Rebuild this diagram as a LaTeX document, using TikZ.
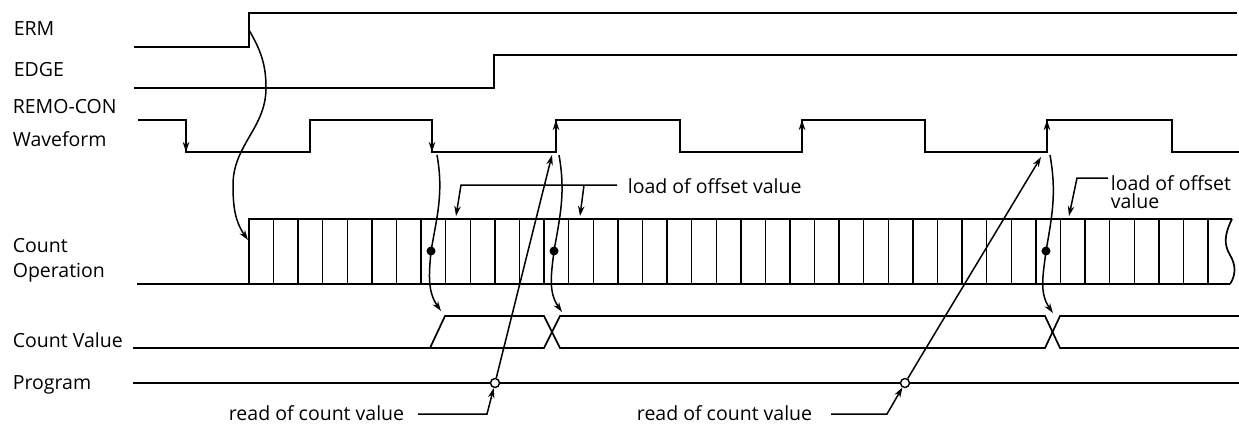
\documentclass[tikz,border=0pt]{standalone}
\usepackage{fontspec}
\setmainfont{Open Sans}
\usetikzlibrary{arrows.meta}

\begin{document}
\begin{tikzpicture}[x=1pt,y=-1pt,line width=1.7pt,
    sig/.style={line width=1.9pt},
    lead/.style={line width=1.5pt,-{Stealth[length=10pt,width=6.5pt]}},
    lbl/.style={anchor=base west,inner sep=0pt,font=\fontsize{19.5}{22}\selectfont},
    dot/.style={circle,fill,inner sep=0pt,minimum size=9pt},
    ring/.style={circle,draw,fill=white,line width=1.4pt,inner sep=0pt,minimum size=9pt}]
  \useasboundingbox (0,0) rectangle (1239,424);

  % signal names
  \node[lbl] (erm) at (13,35) {ERM};
  \node[lbl] (edge) at (13,76) {EDGE};
  \node[lbl] (remo) at (12,113) {REMO-CON};
  \node[lbl] (wave) at (12,146) {Waveform};
  \node[lbl] (cnt) at (12,252) {Count};
  \node[lbl] (oper) at (12,277) {Operation};
  \node[lbl] (cval) at (12,347) {Count Value};
  \node[lbl] (prog) at (12,389) {Program};

  % waveforms
  \draw[sig] (134,47) -- (249,47) -- (249,13) -- (1237,13);
  \draw[sig] (134,88) -- (494,88) -- (494,55) -- (1237,55);
  \draw (138,120) -| (186,152) -| (310,120) -| (432,152) -| (556,120) -| (680,152)
    -| (802,120) -| (925,152) -| (1047,120) -| (1172,152) -- (1239,152);
  \foreach \x/\ya/\yb in {186/120/152, 432/120/152, 556/152/120, 802/152/120, 1047/152/120}
    \draw[lead] (\x,\ya) -- (\x,\yb);

  % count operation
  \draw (137,284) -- (1230,284);
  \draw (249,284) -- (249,219) -- (1232,219);
  \foreach \i in {1,...,39}
    \draw[line width=1.4pt] (249+\i*24.59,219) -- (249+\i*24.59,284);
  \draw (1232,219) .. controls (1224,235) and (1224,245) .. (1230,255)
    .. controls (1236,265) and (1236,275) .. (1230,284);

  % count value
  \draw (133,348) -- (544,348) -- (560,316) -- (1045,316) -- (1060,348) -- (1239,348);
  \draw (430,348) -- (445,316) -- (544,316) -- (560,348) -- (1045,348) -- (1060,316) -- (1239,316);

  % program
  \draw[line width=1.4pt] (133,383) -- (1239,383);
  \node[ring] (rd1) at (495,383) {};
  \node[ring] (rd2) at (905,383) {};

  % load points
  \node[dot] (ld1) at (431,251) {};
  \node[dot] (ld2) at (554,251) {};
  \node[dot] (ld3) at (1046,251) {};

  \coordinate (ermup) at (249,30);
  \coordinate (cstart) at (248,240);
  \coordinate (fall1) at (437,155);
  \coordinate (rise1) at (559,155);
  \coordinate (rise2) at (1050,155);
  \coordinate (cv1) at (441,311);
  \coordinate (cv2) at (562,312);
  \coordinate (cv3) at (1053,313);
  \coordinate (tip1) at (552,155);
  \coordinate (tip2) at (1041,157);

  \draw[lead] (ermup) to[out=-60,in=90] (266,88) to[out=-90,in=90] (233,185)
    to[out=-90,in=125] (cstart);
  \draw[lead] (fall1) to[out=-80,in=80] (ld1.center) to[out=-95,in=125] (cv1);
  \draw[lead] (rise1) to[out=-80,in=80] (ld2.center) to[out=-97,in=125] (cv2);
  \draw[lead] (rise2) to[out=-80,in=80] (ld3.center) to[out=-97,in=125] (cv3);
  \draw[lead] (rd1) -- (tip1);
  \draw[lead] (rd2) -- (tip2);

  % notes
  \node[lbl] (off1) at (627,193) {load of offset value};
  \draw[lead] (617,185) -- (461,185) -- (456,216);
  \draw[lead] (584,185) -- (580,216);
  \node[lbl] (off2) at (1110,190) {load of offset};
  \node[lbl] (off2b) at (1110,208) {value};
  \draw[lead] (1108,178) -- (1077,178) -- (1069,216);

  \node[lbl,anchor=base east] (rdt1) at (405,420) {read of count value};
  \node[lbl,anchor=base east] (rdt2) at (813,420) {read of count value};
  \draw[lead] (418,414) -- (487,414) -- (rd1);
  \draw[lead] (831,414) -- (887,414) -- (rd2);
\end{tikzpicture}
\end{document}
